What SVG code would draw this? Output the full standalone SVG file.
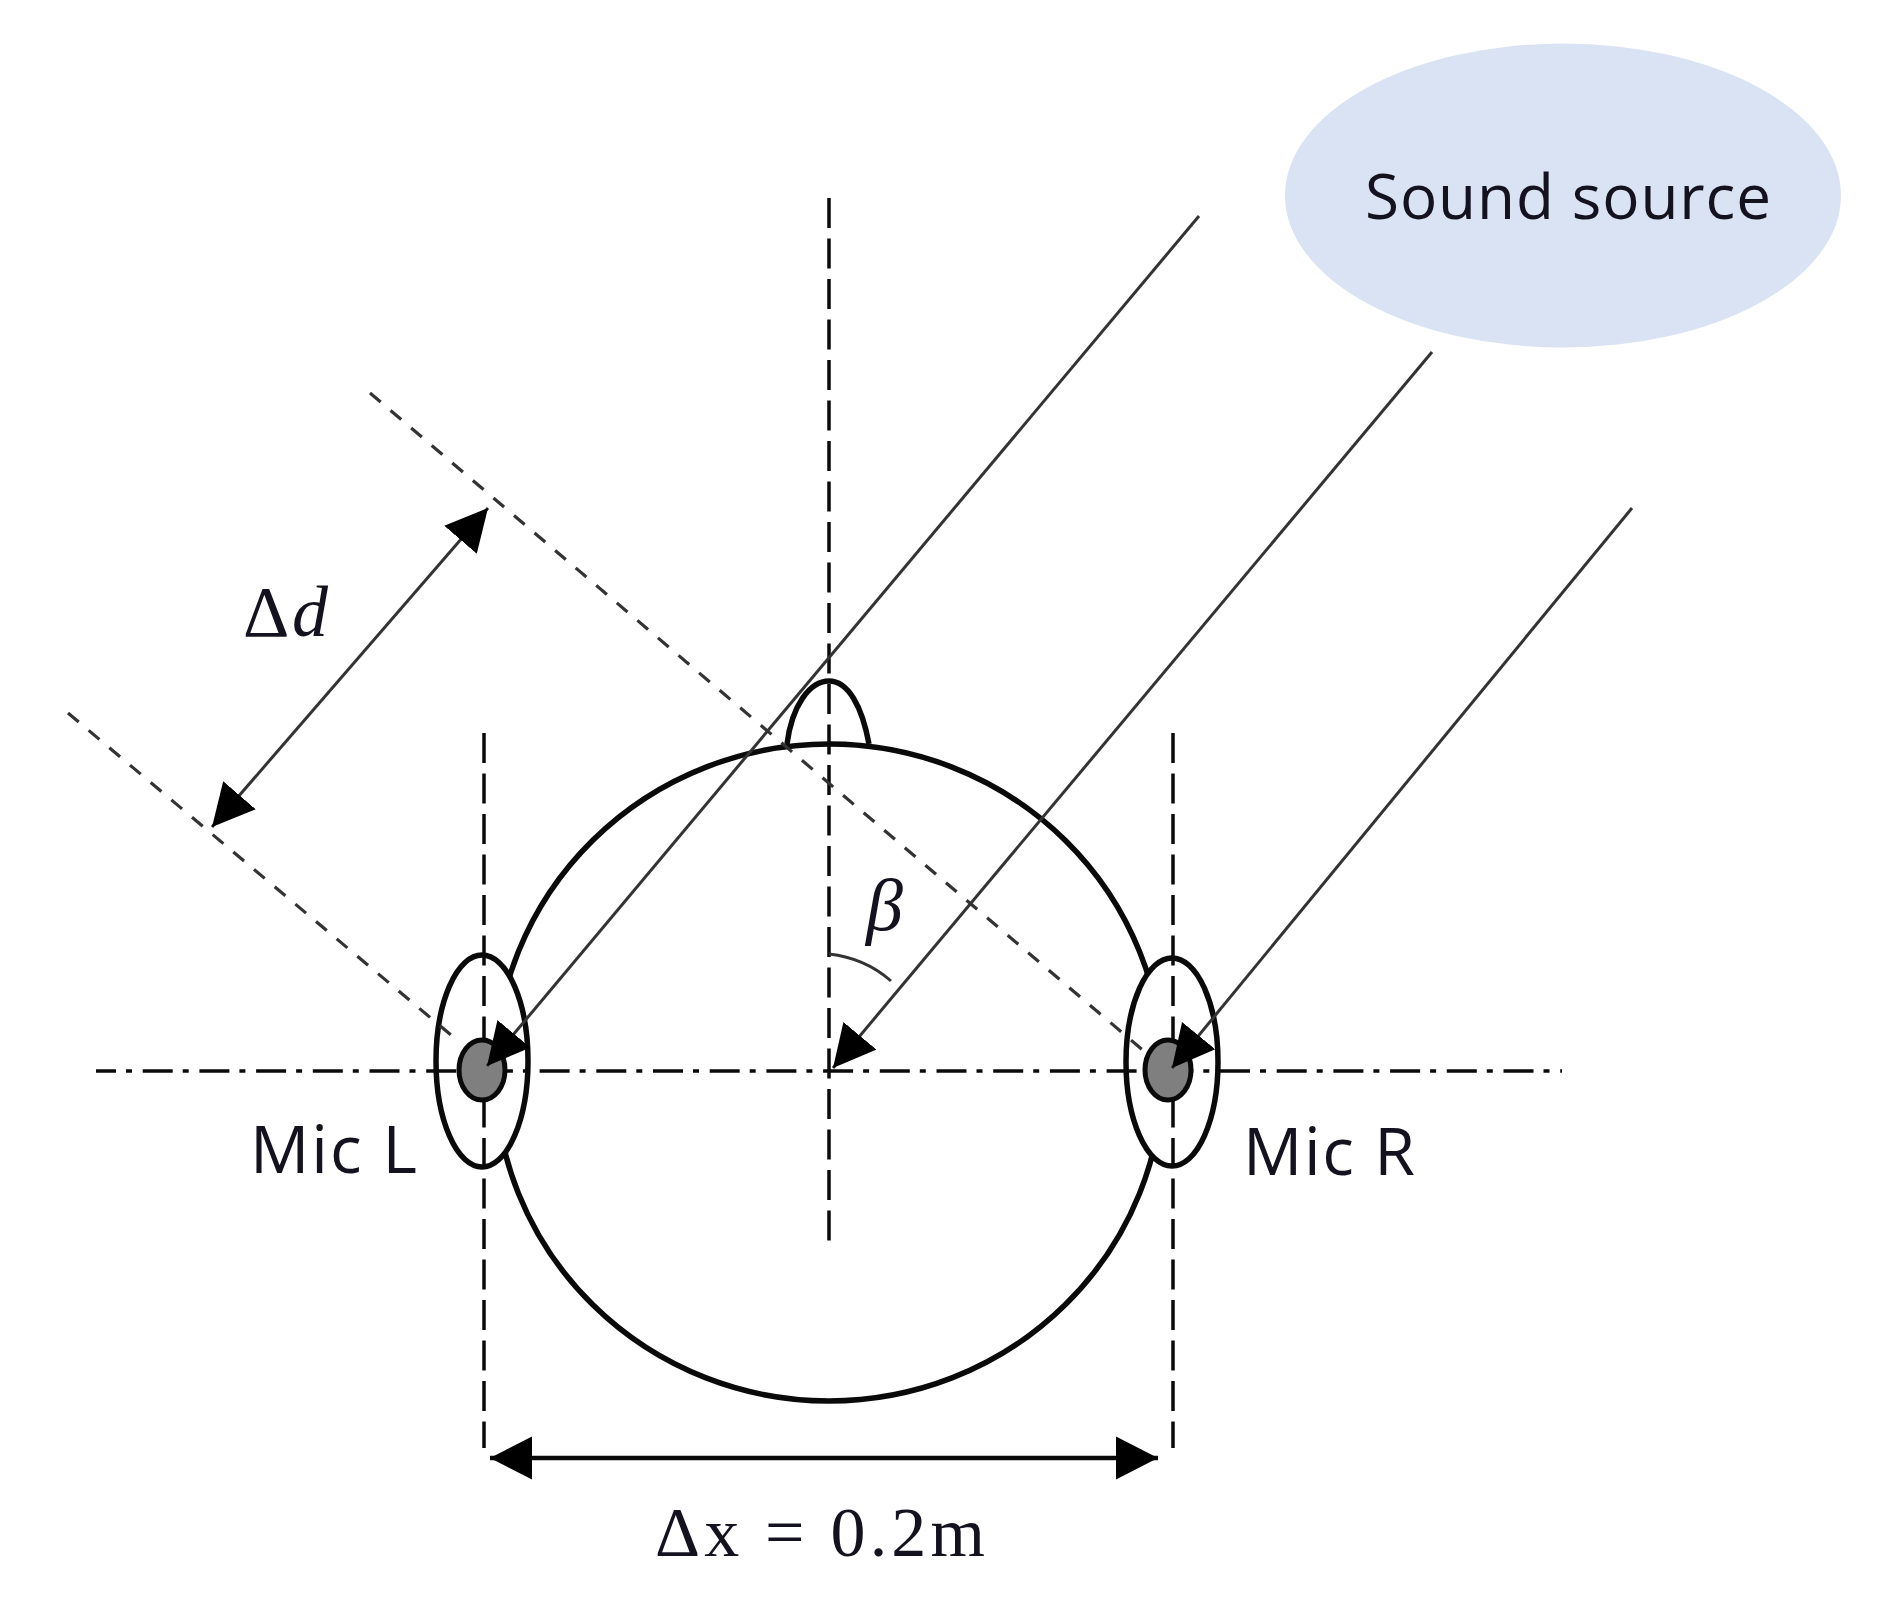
<svg xmlns="http://www.w3.org/2000/svg" width="1881" height="1606" viewBox="0 0 1881 1606">
<style>
.out{fill:none;stroke:#0a0a0a;stroke-width:5.500}
.ear{fill:#fff;stroke:#0a0a0a;stroke-width:5.500}
.mic{fill:#7f7f7f;stroke:#0a0a0a;stroke-width:5}
.guide{fill:none;stroke:#0a0a0a;stroke-width:3.500;stroke-dasharray:30 10.500}
.axis{fill:none;stroke:#0a0a0a;stroke-width:3.500;stroke-dasharray:30 10 6 10.700}
.perp{fill:none;stroke:#333;stroke-width:3.200;stroke-dasharray:14 13}
.ray{fill:none;stroke:#333;stroke-width:3}
.sans{font-family:"Open Sans","Noto Sans",sans-serif;fill:#14121e}
.math{font-family:"Liberation Serif","DejaVu Serif",serif;fill:#14121e}
</style>
<defs>
<marker id="head" markerUnits="userSpaceOnUse" markerWidth="44" markerHeight="46" refX="42" refY="22" orient="auto-start-reverse" viewBox="0 0 44 46">
<path d="M0,0.500 L42,22 L0,43.500 Z" fill="#000"/>
</marker>
</defs>
<rect width="1881" height="1606" fill="#fff"/>
<g id="sound-source">
<ellipse cx="1563" cy="195.500" rx="278" ry="152" fill="#dae3f3"/>
<text class="sans" x="1365" y="219" font-size="62" textLength="406" lengthAdjust="spacing">Sound source</text>
</g>
<g id="head-outline">
<ellipse cx="829" cy="1072.500" rx="334" ry="328.500" class="out"/>
<path class="out" d="M787,744 C792,705 810,681 829,681 C848,681 862,706 869,744"/>
</g>
<g id="ear-left"><ellipse cx="482" cy="1061" rx="46" ry="106" class="ear"/></g>
<g id="ear-right"><ellipse cx="1172" cy="1062" rx="46" ry="104" class="ear"/></g>
<g id="connectors">
<line class="guide" x1="829" y1="198" x2="829" y2="1250"/>
<line class="guide" x1="484" y1="733" x2="484" y2="1448"/>
<line class="guide" x1="1173" y1="733" x2="1173" y2="1448"/>
<line class="axis" x1="96" y1="1071" x2="1562" y2="1071" stroke-dashoffset="10"/>
<line class="perp" x1="370" y1="393" x2="1145" y2="1052"/>
<line class="perp" x1="68" y1="713" x2="457" y2="1040"/>
<path class="ray" d="M829,954 Q865,958 891,981"/>
</g>
<g id="mic-left"><ellipse cx="482" cy="1070" rx="23" ry="30" class="mic"/></g>
<g id="mic-right"><ellipse cx="1168" cy="1070" rx="23" ry="30" class="mic"/></g>
<g id="rays">
<line class="ray" x1="1199" y1="216" x2="487" y2="1066" marker-end="url(#head)"/>
<line class="ray" x1="1432" y1="352" x2="833" y2="1068" marker-end="url(#head)"/>
<line class="ray" x1="1632" y1="508" x2="1172" y2="1068" marker-end="url(#head)"/>
<line class="ray" x1="212" y1="827" x2="488" y2="508" marker-start="url(#head)" marker-end="url(#head)"/>
<line class="out" style="stroke-width:4.500" x1="490" y1="1458" x2="1158" y2="1458" marker-start="url(#head)" marker-end="url(#head)"/>
</g>
<g id="labels">
<text class="sans" x="250" y="1173" font-size="66" textLength="167" lengthAdjust="spacing">Mic L</text>
<text class="sans" x="1243" y="1175" font-size="66" textLength="172" lengthAdjust="spacing">Mic R</text>
<text class="math" x="243" y="636" font-size="72" textLength="85" lengthAdjust="spacing">Δ<tspan font-style="italic">d</tspan></text>
<text class="math" x="866" y="930" font-size="74" font-style="italic">β</text>
<text class="math" x="655" y="1556" font-size="70" textLength="330" lengthAdjust="spacing">Δx = 0.2m</text>
</g>
</svg>
